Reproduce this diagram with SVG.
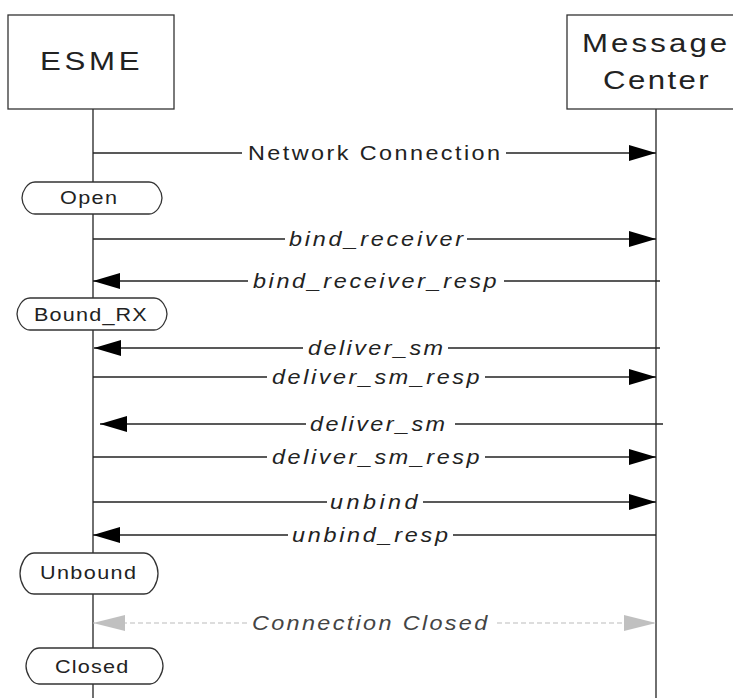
<svg xmlns="http://www.w3.org/2000/svg" width="733" height="698" viewBox="0 0 733 698">
<style>
  .box{fill:#fff;stroke:#333;stroke-width:1.3}
  .life{stroke:#333;stroke-width:1.4;fill:none}
  .msg{stroke:#222;stroke-width:1.3;fill:none}
  .closed{stroke:#bbb;stroke-width:1.2;fill:none;stroke-dasharray:5 3}
  .hdr{font-family:"Liberation Sans",Arial,sans-serif;font-size:26px;fill:#222}
  .st{font-family:"Liberation Sans",Arial,sans-serif;font-size:18px;fill:#222}
  .lbl{font-family:"Liberation Sans",Arial,sans-serif;font-size:19.5px;fill:#222}
  .it{font-style:italic}
  .grey{fill:#444}
</style>
<defs>
  <marker id="ah" markerUnits="userSpaceOnUse" markerWidth="28" markerHeight="18" refX="27" refY="8" orient="auto">
    <path d="M0,0 L27,8 L0,16 Z" fill="#000"/>
  </marker>
  <marker id="ahg" markerUnits="userSpaceOnUse" markerWidth="33" markerHeight="18" refX="32" refY="8" orient="auto">
    <path d="M0,0 L32,8 L0,16 Z" fill="#c0c0c0"/>
  </marker>
</defs>

<g id="lifelines">
  <line class="life" x1="93" y1="109" x2="93" y2="698"/>
  <line class="life" x1="656" y1="109" x2="656" y2="698"/>
</g>

<g id="esme">
  <rect class="box" x="8" y="15" width="166" height="94"/>
  <text class="hdr" transform="translate(40,70) scale(1.2,1)" font-size="27" textLength="83" lengthAdjust="spacing">ESME</text>
</g>

<g id="message-center">
  <rect class="box" x="567" y="15" width="168" height="94"/>
  <text class="hdr" transform="translate(582,52) scale(1.2,1)" textLength="121" lengthAdjust="spacing">Message</text>
  <text class="hdr" transform="translate(603,89) scale(1.2,1)" textLength="88" lengthAdjust="spacing">Center</text>
</g>

<g id="connectors">
  <!-- Network Connection -->
  <line class="msg" x1="93" y1="153" x2="242" y2="153"/>
  <line class="msg" x1="506" y1="153" x2="656" y2="153" marker-end="url(#ah)"/>
  <text class="lbl" transform="translate(248,160) scale(1.2,1)" textLength="210" lengthAdjust="spacing">Network Connection</text>

  <!-- bind_receiver -->
  <line class="msg" x1="93" y1="239" x2="285" y2="239"/>
  <line class="msg" x1="467" y1="239" x2="656" y2="239" marker-end="url(#ah)"/>
  <text class="lbl it" transform="translate(289,246) scale(1.2,1)" textLength="145" lengthAdjust="spacing">bind_receiver</text>

  <!-- bind_receiver_resp -->
  <line class="msg" x1="660" y1="281" x2="504" y2="281"/>
  <line class="msg" x1="248" y1="281" x2="93" y2="281" marker-end="url(#ah)"/>
  <text class="lbl it" transform="translate(253,288) scale(1.2,1)" textLength="203" lengthAdjust="spacing">bind_receiver_resp</text>

  <!-- deliver_sm -->
  <line class="msg" x1="660" y1="348" x2="448" y2="348"/>
  <line class="msg" x1="303" y1="348" x2="94" y2="348" marker-end="url(#ah)"/>
  <text class="lbl it" transform="translate(308,355) scale(1.2,1)" textLength="112.5" lengthAdjust="spacing">deliver_sm</text>

  <!-- deliver_sm_resp -->
  <line class="msg" x1="93" y1="377" x2="267" y2="377"/>
  <line class="msg" x1="485" y1="377" x2="656" y2="377" marker-end="url(#ah)"/>
  <text class="lbl it" transform="translate(272,384) scale(1.2,1)" textLength="173" lengthAdjust="spacing">deliver_sm_resp</text>

  <!-- deliver_sm (2) -->
  <line class="msg" x1="663" y1="424" x2="455" y2="424"/>
  <line class="msg" x1="306" y1="424" x2="100" y2="424" marker-end="url(#ah)"/>
  <text class="lbl it" transform="translate(310,431) scale(1.2,1)" textLength="112.5" lengthAdjust="spacing">deliver_sm</text>

  <!-- deliver_sm_resp (2) -->
  <line class="msg" x1="93" y1="457" x2="267" y2="457"/>
  <line class="msg" x1="485" y1="457" x2="656" y2="457" marker-end="url(#ah)"/>
  <text class="lbl it" transform="translate(272,464) scale(1.2,1)" textLength="173" lengthAdjust="spacing">deliver_sm_resp</text>

  <!-- unbind -->
  <line class="msg" x1="93" y1="502" x2="327" y2="502"/>
  <line class="msg" x1="423" y1="502" x2="656" y2="502" marker-end="url(#ah)"/>
  <text class="lbl it" transform="translate(330,509) scale(1.2,1)" textLength="73" lengthAdjust="spacing">unbind</text>

  <!-- unbind_resp -->
  <line class="msg" x1="656" y1="535" x2="453" y2="535"/>
  <line class="msg" x1="288" y1="535" x2="93" y2="535" marker-end="url(#ah)"/>
  <text class="lbl it" transform="translate(292,542) scale(1.2,1)" textLength="130" lengthAdjust="spacing">unbind_resp</text>

  <!-- Connection Closed -->
  <line class="closed" x1="247" y1="623" x2="93" y2="623" marker-end="url(#ahg)"/>
  <line class="closed" x1="497" y1="623" x2="656" y2="623" marker-end="url(#ahg)"/>
  <text class="lbl it grey" transform="translate(252,630) scale(1.2,1)" textLength="196" lengthAdjust="spacing">Connection Closed</text>
</g>

<g id="state-open">
  <path class="box" d="M35,182 H149 C157,182 162,192 162,198 C162,204 157,214 149,214 H35 C27,214 22,204 22,198 C22,192 27,182 35,182 Z"/>
  <text class="st" transform="translate(60,204) scale(1.2,1)" textLength="47.5" lengthAdjust="spacing">Open</text>
</g>

<g id="state-bound-rx">
  <path class="box" d="M30,298 H154 C162,298 167,308 167,314 C167,320 162,330 154,330 H30 C22,330 17,320 17,314 C17,308 22,298 30,298 Z"/>
  <text class="st" transform="translate(34,321) scale(1.2,1)" textLength="94" lengthAdjust="spacing">Bound_RX</text>
</g>

<g id="state-unbound">
  <path class="box" d="M34,553 H144 C153,553 158,566 158,573.5 C158,581 153,594 144,594 H34 C25,594 20,581 20,573.5 C20,566 25,553 34,553 Z"/>
  <text class="st" transform="translate(40,579) scale(1.2,1)" textLength="80" lengthAdjust="spacing">Unbound</text>
</g>

<g id="state-closed">
  <path class="box" d="M39,648 H150 C158,648 163,660 163,666 C163,672 158,684 150,684 H39 C31,684 26,672 26,666 C26,660 31,648 39,648 Z"/>
  <text class="st" transform="translate(55,673) scale(1.2,1)" textLength="61" lengthAdjust="spacing">Closed</text>
</g>
</svg>
